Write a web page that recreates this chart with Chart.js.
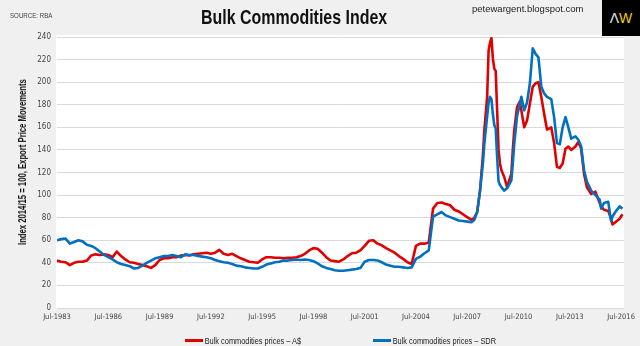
<!DOCTYPE html>
<html>
<head>
<meta charset="utf-8">
<title>Bulk Commodities Index</title>
<script src="https://cdn.jsdelivr.net/npm/chart.js@4.4.1/dist/chart.umd.min.js"></script>
<style>
  body { margin: 0; background: #f0f0f0; }
  #wrap { position: relative; width: 640px; height: 346px; overflow: hidden; font-family: 'Liberation Sans', Arial, sans-serif; }
  #chart { position: absolute; left: 0; top: 0; }
  /* Arial Narrow look: squeeze the regular face */
  .narrow { position: absolute; white-space: nowrap; transform-origin: 0 50%; transform: scaleX(0.82); }
  .source { left: 10px; top: 11px; font-size: 7.5px; color: #444; }
  .title { left: 201px; top: 5px; font-size: 21px; font-weight: bold; color: #111; transform: scaleX(0.76); }
  .blog { position: absolute; left: 472px; top: 3px; font-size: 9.5px; color: #222; }
  .logo {
    position: absolute; left: 602px; top: 0; width: 38px; height: 36px; background: #000;
    font-size: 14px; line-height: 36px; text-align: center;
  }
  .logo .a { color: #e6e6e6; }
  .logo .w { color: #f0d000; }
  .ytitle {
    position: absolute; left: 22px; top: 162px; font-size: 11px; font-weight: bold; color: #111;
    white-space: nowrap; transform: translate(-50%, -50%) rotate(-90deg) scaleX(0.7);
  }
  .legend-item { top: 335px; height: 12px; font-size: 9px; line-height: 12px; color: #222; }
  .legend-item i { display: inline-block; width: 22px; height: 3px; vertical-align: middle; margin-right: 2px; position: relative; top: -1px; }
</style>
</head>
<body>
<div id="wrap">
  <canvas id="chart" width="640" height="346"></canvas>
  <div class="narrow source">SOURCE: RBA</div>
  <div class="narrow title">Bulk Commodities Index</div>
  <div class="blog">petewargent.blogspot.com</div>
  <div class="logo"><span class="a">Λ</span><span class="w">W</span></div>
  <div class="ytitle">Index 2014/15 = 100, Export Price Movements</div>
  <div id="legend"></div>
</div>
<script>
'use strict';

// months counted from Jul-1983 (0) ; quarterly to mid-2007, then denser
let months = [
  0, 3, 6, 9, 12, 15, 18, 21, 24, 27, 30, 33, 36, 39, 42, 45, 48, 51, 54, 57,
  60, 63, 66, 69, 72, 75, 78, 81, 84, 87, 90, 93, 96, 99, 102, 105, 108, 111, 114, 117,
  120, 123, 126, 129, 132, 135, 138, 141, 144, 147, 150, 153, 156, 159, 162, 165, 168, 171, 174, 177,
  180, 183, 186, 189, 192, 195, 198, 201, 204, 207, 210, 213, 216, 219, 222, 225, 228, 231, 234, 237,
  240, 243, 246, 249, 252, 255, 258, 261, 264, 267, 270, 273, 276, 279, 282, 285, 288,
  291, 293, 295, 297, 299, 300, 302, 303, 304, 305, 306, 307, 308, 309, 310, 311, 312, 314, 316,
  319, 320, 321, 323, 325, 326, 328, 330, 332, 334, 336, 338, 340, 342, 344, 347, 349, 351, 353, 355,
  357, 359, 361, 364, 366, 368, 370, 372, 375, 378, 381, 382, 384, 387, 389, 390, 392, 395, 397
];

// Bulk commodities prices - A$
let audValues = [
  42, 41, 40.5, 38, 40, 41, 41, 42, 46.5, 47.5, 47, 47.5, 47, 45, 50, 46, 43, 40.5, 40, 39,
  38, 37, 35.5, 38, 42.5, 44, 44, 45, 45, 46.5, 47, 46.5, 47.5, 48, 48.5, 49, 48, 49, 51.5, 48,
  47, 48, 46, 44, 42.5, 41, 40.5, 40, 43, 45, 45, 44.5, 44.5, 44, 44.5, 44.5, 45, 46, 48, 51,
  53, 52.5, 49, 45, 42, 41.5, 41, 43, 46, 48.5, 49, 51, 55, 59.5, 60, 57, 55.5, 53, 51, 49,
  46, 43.5, 40.5, 39, 55, 57, 57, 58, 88, 93, 93.5, 92, 91, 87, 85.5, 83, 80.5,
  78, 80, 85, 104, 135, 157, 187, 228, 235, 239, 221, 212, 210, 175, 140, 128, 122, 116, 107,
  119, 140, 157, 178, 183, 175, 160, 166, 181, 196, 199, 200, 187, 172, 158, 160, 146, 125, 124, 128,
  141, 143, 140, 143, 147, 141, 119, 107, 101, 103, 93, 90, 87, 86, 79, 74, 76, 79, 83
];

// Bulk commodities prices - SDR
let sdrValues = [
  60, 61, 61.5, 57, 58.5, 60, 59, 56, 55, 53, 50, 47, 45, 43, 40.5, 39, 38, 37, 35, 35.5,
  37.5, 40, 42, 44, 45, 46, 46, 47, 46, 45, 47.5, 47, 47, 46, 45.5, 45, 44, 42.5, 41.5, 40.5,
  40, 39, 37.5, 37, 36, 35.5, 35, 35, 36.5, 38.5, 39.5, 40.5, 41, 42, 42, 42.5, 43, 42.5, 43, 42.5,
  41.5, 39.5, 37, 35.5, 34.5, 33.5, 33, 33, 33.5, 34, 34.5, 35.5, 41, 42.5, 42.5, 42, 40.5, 38.5, 37.5, 36.5,
  36.5, 36, 35.5, 36, 43.5, 45.5, 48.5, 51, 81, 83, 85, 82, 80.5, 79, 77.5, 77, 76.5,
  76, 78, 85, 104, 128, 145, 170, 182, 187, 185, 172, 162, 159, 134, 112, 109, 107, 104, 106,
  113, 128, 145, 170, 181, 187, 175, 182, 199, 230, 225, 222, 196, 190, 187, 185, 169, 146, 145, 160,
  169, 160, 150, 152, 149, 143, 122, 112, 104, 100, 96, 88, 93, 94, 77, 81, 85, 90, 88
];

let tickMonths = [0, 36, 72, 108, 144, 180, 216, 252, 288, 324, 360, 396];
let tickLabels = ['Jul-1983', 'Jul-1986', 'Jul-1989', 'Jul-1992', 'Jul-1995', 'Jul-1998',
  'Jul-2001', 'Jul-2004', 'Jul-2007', 'Jul-2010', 'Jul-2013', 'Jul-2016'];

let seriesNames = ['Bulk commodities prices – A$', 'Bulk commodities prices – SDR'];
let seriesColors = ['#e00000', '#0070c0'];

function toPoints(values) {
  return months.map((m, i) => ({ x: m, y: values[i] }));
}

let tickFont = { family: "'DejaVu Sans Condensed', 'Liberation Sans', sans-serif", size: 7.5 };

// white plot area on the grey page
const plotBg = {
  id: 'plotBg',
  beforeDraw(chart) {
    const { ctx, chartArea: a } = chart;
    ctx.save();
    ctx.fillStyle = '#ffffff';
    ctx.fillRect(a.left - 1, a.top - 2, a.width + 1, a.height + 3);
    ctx.restore();
  }
};

const chart = new Chart(document.getElementById('chart'), {
  type: 'line',
  data: {
    datasets: [
      { label: seriesNames[0], data: toPoints(audValues), borderColor: seriesColors[0], backgroundColor: seriesColors[0], order: 2 },
      { label: seriesNames[1], data: toPoints(sdrValues), borderColor: seriesColors[1], backgroundColor: seriesColors[1], order: 1 }
    ]
  },
  options: {
    responsive: false,
    animation: false,
    parsing: false,
    elements: {
      line: { borderWidth: 2.6, tension: 0, borderJoinStyle: 'round' },
      point: { radius: 0 }
    },
    layout: { padding: { left: 0, right: 15, top: 37, bottom: 18 } },
    plugins: { legend: { display: false }, tooltip: { enabled: false } },
    scales: {
      x: {
        type: 'linear',
        min: 0,
        max: 398,
        afterBuildTicks: (scale) => { scale.ticks = tickMonths.map(v => ({ value: v })); },
        afterFit: (scale) => { scale.height = 20; },
        ticks: {
          autoSkip: false,
          maxRotation: 0,
          padding: 5,
          color: '#444',
          font: tickFont,
          callback: (v) => tickLabels[tickMonths.indexOf(v)]
        },
        grid: { display: false, drawTicks: false },
        border: { display: false }
      },
      y: {
        min: 0,
        max: 240,
        afterFit: (scale) => { scale.width = 57; },
        ticks: { stepSize: 10, padding: 6, color: '#444', font: { family: tickFont.family, size: 8 } },
        grid: { color: '#d9d9d9', lineWidth: 1, drawTicks: false },
        border: { display: false }
      }
    }
  },
  plugins: [plotBg]
});

// legend below the plot
let legendLeft = [185, 373];
let legend = document.getElementById('legend');
chart.data.datasets.forEach((ds, i) => {
  let item = document.createElement('div');
  item.className = 'narrow legend-item';
  item.style.left = legendLeft[i] + 'px';
  let swatch = document.createElement('i');
  swatch.style.background = ds.borderColor;
  item.appendChild(swatch);
  item.appendChild(document.createTextNode(ds.label));
  legend.appendChild(item);
});
</script>
</body>
</html>
